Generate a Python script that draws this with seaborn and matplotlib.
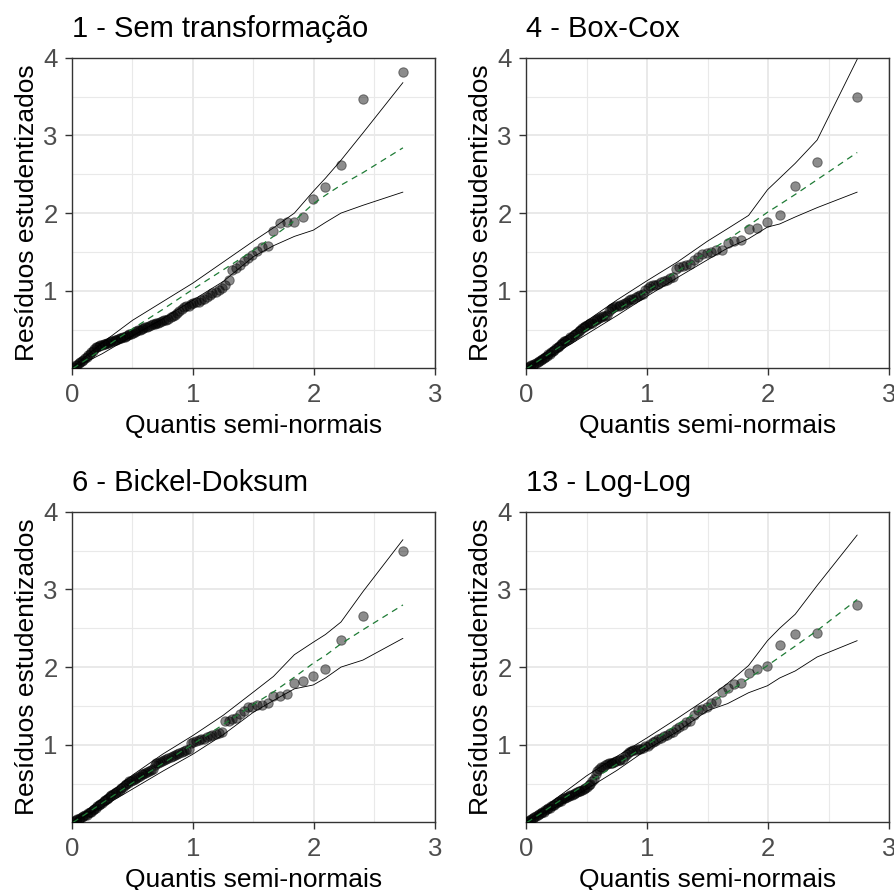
import matplotlib
matplotlib.use("Agg")
import matplotlib.pyplot as plt
import seaborn as sns
import pandas as pd
from matplotlib.ticker import MultipleLocator, FixedLocator

# ---------------- data ----------------
titles = ["1 - Sem transformação", "4 - Box-Cox", "6 - Bickel-Doksum", "13 - Log-Log"]
xlabel = "Quantis semi-normais"
ylabel = "Resíduos estudentizados"
xticks = [0, 1, 2, 3]
yticks = [1, 2, 3, 4]

# half-normal quantiles (x positions of the points)
quantis = [0.008, 0.02, 0.033, 0.045, 0.058, 0.07, 0.083, 0.095, 0.108, 0.121,
           0.133, 0.146, 0.158, 0.171, 0.184, 0.197, 0.209, 0.222, 0.235, 0.248,
           0.261, 0.274, 0.287, 0.3, 0.313, 0.326, 0.339, 0.353, 0.366, 0.379,
           0.393, 0.406, 0.42, 0.434, 0.447, 0.461, 0.475, 0.489, 0.503, 0.518,
           0.532, 0.546, 0.561, 0.576, 0.59, 0.605, 0.621, 0.636, 0.651, 0.667,
           0.682, 0.698, 0.714, 0.73, 0.747, 0.764, 0.78, 0.797, 0.815, 0.832,
           0.85, 0.868, 0.887, 0.905, 0.924, 0.944, 0.963, 0.983, 1.004, 1.025,
           1.046, 1.068, 1.09, 1.113, 1.137, 1.161, 1.186, 1.212, 1.238, 1.265,
           1.294, 1.323, 1.354, 1.386, 1.419, 1.454, 1.491, 1.53, 1.572, 1.617,
           1.665, 1.717, 1.774, 1.838, 1.91, 1.994, 2.095, 2.223, 2.404, 2.735]

res_sem = [0.01, 0.02, 0.04, 0.05, 0.07, 0.08, 0.10, 0.11, 0.13, 0.15,
           0.17, 0.19, 0.21, 0.23, 0.25, 0.27, 0.28, 0.29, 0.30, 0.30,
           0.31, 0.32, 0.33, 0.33, 0.34, 0.35, 0.36, 0.37, 0.37, 0.38,
           0.39, 0.39, 0.40, 0.41, 0.42, 0.43, 0.44, 0.45, 0.46, 0.47,
           0.48, 0.49, 0.50, 0.51, 0.52, 0.53, 0.54, 0.55, 0.56, 0.57,
           0.57, 0.58, 0.59, 0.60, 0.61, 0.62, 0.63, 0.64, 0.66, 0.67,
           0.69, 0.71, 0.74, 0.77, 0.79, 0.80, 0.81, 0.83, 0.84, 0.85,
           0.86, 0.88, 0.90, 0.92, 0.95, 0.97, 0.99, 1.01, 1.04, 1.08,
           1.14, 1.27, 1.29, 1.33, 1.38, 1.42, 1.46, 1.51, 1.56, 1.57,
           1.77, 1.87, 1.88, 1.88, 1.95, 2.18, 2.34, 2.62, 3.47, 3.81]

res_boxcox = [0.01, 0.02, 0.03, 0.04, 0.05, 0.06, 0.07, 0.08, 0.09, 0.11,
              0.12, 0.13, 0.15, 0.16, 0.18, 0.19, 0.21, 0.22, 0.24, 0.26,
              0.28, 0.29, 0.31, 0.33, 0.35, 0.36, 0.37, 0.38, 0.40, 0.41,
              0.43, 0.44, 0.46, 0.48, 0.50, 0.52, 0.54, 0.55, 0.56, 0.57,
              0.58, 0.59, 0.61, 0.63, 0.64, 0.65, 0.66, 0.67, 0.68, 0.69,
              0.74, 0.77, 0.78, 0.79, 0.80, 0.81, 0.82, 0.83, 0.84, 0.86,
              0.88, 0.89, 0.90, 0.92, 0.93, 0.94, 0.96, 1.01, 1.04, 1.06,
              1.07, 1.08, 1.09, 1.11, 1.12, 1.14, 1.16, 1.18, 1.28, 1.31,
              1.32, 1.33, 1.35, 1.40, 1.44, 1.47, 1.49, 1.50, 1.52, 1.53,
              1.62, 1.64, 1.66, 1.79, 1.81, 1.89, 1.98, 2.35, 2.66, 3.50]

res_bickel = [0.01, 0.02, 0.03, 0.04, 0.05, 0.06, 0.07, 0.08, 0.09, 0.10,
              0.12, 0.13, 0.14, 0.16, 0.17, 0.19, 0.21, 0.22, 0.24, 0.25,
              0.27, 0.29, 0.30, 0.32, 0.34, 0.35, 0.37, 0.38, 0.39, 0.41,
              0.42, 0.44, 0.46, 0.48, 0.50, 0.51, 0.53, 0.54, 0.55, 0.56,
              0.57, 0.59, 0.60, 0.62, 0.63, 0.64, 0.65, 0.66, 0.67, 0.69,
              0.74, 0.76, 0.77, 0.78, 0.79, 0.80, 0.82, 0.83, 0.84, 0.85,
              0.87, 0.88, 0.89, 0.91, 0.92, 0.93, 0.95, 1.02, 1.04, 1.05,
              1.06, 1.07, 1.08, 1.10, 1.11, 1.13, 1.14, 1.15, 1.17, 1.30,
              1.31, 1.33, 1.35, 1.40, 1.43, 1.48, 1.49, 1.51, 1.51, 1.54,
              1.63, 1.63, 1.65, 1.79, 1.82, 1.88, 1.97, 2.35, 2.66, 3.50]

res_loglog = [0.01, 0.02, 0.03, 0.05, 0.06, 0.07, 0.08, 0.09, 0.11, 0.12,
              0.13, 0.14, 0.16, 0.17, 0.18, 0.19, 0.21, 0.22, 0.23, 0.25,
              0.26, 0.27, 0.28, 0.30, 0.31, 0.32, 0.33, 0.34, 0.35, 0.36,
              0.37, 0.38, 0.39, 0.40, 0.41, 0.42, 0.43, 0.44, 0.46, 0.48,
              0.50, 0.53, 0.56, 0.62, 0.66, 0.69, 0.71, 0.72, 0.74, 0.75,
              0.76, 0.76, 0.77, 0.78, 0.79, 0.80, 0.80, 0.82, 0.85, 0.88,
              0.91, 0.92, 0.93, 0.93, 0.94, 0.95, 0.96, 0.98, 0.99, 1.01,
              1.03, 1.05, 1.07, 1.09, 1.11, 1.13, 1.15, 1.17, 1.20, 1.23,
              1.26, 1.29, 1.31, 1.38, 1.45, 1.46, 1.48, 1.54, 1.56, 1.68,
              1.73, 1.78, 1.79, 1.92, 1.97, 2.02, 2.29, 2.42, 2.44, 2.80]

# simulated envelope (lower / mean / upper) read at these quantiles
env_x = [0.008, 0.25, 0.5, 0.75, 1.0, 1.25, 1.5, 1.665, 1.838, 1.994, 2.095, 2.223, 2.404, 2.735]

low_sem = [0.0, 0.19, 0.42, 0.64, 0.88, 1.12, 1.44, 1.58, 1.70, 1.78, 1.88, 2.00, 2.10, 2.27]
mid_sem = [0.0, 0.25, 0.51, 0.76, 1.02, 1.27, 1.52, 1.70, 1.90, 2.12, 2.23, 2.36, 2.52, 2.84]
upp_sem = [0.02, 0.33, 0.62, 0.86, 1.10, 1.37, 1.64, 1.81, 2.00, 2.28, 2.45, 2.68, 3.03, 3.68]

low_boxcox = [0.0, 0.20, 0.44, 0.68, 0.93, 1.17, 1.40, 1.55, 1.67, 1.82, 1.86, 1.95, 2.07, 2.27]
mid_boxcox = [0.0, 0.25, 0.50, 0.75, 1.00, 1.25, 1.50, 1.66, 1.84, 2.01, 2.11, 2.24, 2.43, 2.78]
upp_boxcox = [0.02, 0.31, 0.61, 0.88, 1.13, 1.37, 1.64, 1.80, 1.97, 2.30, 2.45, 2.64, 2.94, 3.98]

low_bickel = [0.0, 0.20, 0.43, 0.66, 0.88, 1.13, 1.42, 1.57, 1.72, 1.77, 1.86, 2.00, 2.09, 2.37]
mid_bickel = [0.0, 0.25, 0.51, 0.76, 1.01, 1.26, 1.52, 1.68, 1.87, 2.05, 2.15, 2.30, 2.48, 2.80]
upp_bickel = [0.02, 0.31, 0.61, 0.88, 1.12, 1.38, 1.68, 1.88, 2.16, 2.32, 2.42, 2.58, 2.97, 3.64]

low_loglog = [0.0, 0.20, 0.43, 0.67, 0.94, 1.17, 1.44, 1.53, 1.67, 1.76, 1.86, 1.95, 2.13, 2.34]
mid_loglog = [0.0, 0.25, 0.50, 0.75, 1.00, 1.26, 1.51, 1.68, 1.85, 2.02, 2.13, 2.27, 2.47, 2.87]
upp_loglog = [0.02, 0.31, 0.60, 0.85, 1.09, 1.34, 1.60, 1.79, 2.02, 2.34, 2.50, 2.68, 3.05, 3.70]

residuos = [res_sem, res_boxcox, res_bickel, res_loglog]
inferior = [low_sem, low_boxcox, low_bickel, low_loglog]
media = [mid_sem, mid_boxcox, mid_bickel, mid_loglog]
superior = [upp_sem, upp_boxcox, upp_bickel, upp_loglog]

# ---------------- style ----------------
sns.set_style("white")
plt.rcParams["font.family"] = ["Liberation Sans", "DejaVu Sans"]

W, H = 895, 890
fig = plt.figure(figsize=(W / 100, H / 100), dpi=100)

# axes boxes in pixels: left, right, top, bottom
boxes = [(72, 435, 57.7, 367.7), (526, 889.3, 57.7, 367.7),
         (72, 435, 511.7, 821.7), (526, 889.3, 511.7, 821.7)]

grid_col = "#E9E9E9"
dark = "#333333"

for i in range(4):
    l, r, t, b = boxes[i]
    ax = fig.add_axes([l / W, 1 - b / H, (r - l) / W, (b - t) / H])
    ax.set_facecolor("white")

    pts = pd.DataFrame({"x": quantis, "y": residuos[i]})
    env = pd.DataFrame({"x": env_x, "lo": inferior[i], "mid": media[i], "hi": superior[i]})

    sns.scatterplot(data=pts, x="x", y="y", ax=ax, color="black", alpha=0.45,
                    s=46, edgecolor="black", linewidth=0.7, zorder=3, clip_on=True)
    sns.lineplot(data=env, x="x", y="lo", ax=ax, color="black", lw=0.6,
                 estimator=None, sort=False, zorder=4)
    sns.lineplot(data=env, x="x", y="hi", ax=ax, color="black", lw=0.6,
                 estimator=None, sort=False, zorder=4)
    sns.lineplot(data=env, x="x", y="mid", ax=ax, color="#1e7b35", lw=0.9,
                 estimator=None, sort=False, zorder=5, linestyle=(0, (5, 4)))

    ax.set_xlim(0, 3)
    ax.set_ylim(0.01, 4)
    ax.xaxis.set_major_locator(FixedLocator(xticks))
    ax.yaxis.set_major_locator(FixedLocator(yticks))
    ax.xaxis.set_minor_locator(MultipleLocator(0.5))
    ax.yaxis.set_minor_locator(FixedLocator([0.5, 1.5, 2.5, 3.5]))
    ax.grid(True, which="major", color=grid_col, lw=1.4, zorder=0)
    ax.grid(True, which="minor", color=grid_col, lw=0.8, zorder=0)
    ax.set_axisbelow(True)

    for sp in ax.spines.values():
        sp.set_color(dark)
        sp.set_linewidth(1.0)
        sp.set_visible(True)

    ax.tick_params(axis="both", which="major", direction="out", length=4.7,
                   width=1.0, color=dark, labelcolor="#4D4D4D", labelsize=18.5,
                   left=True, bottom=True)
    ax.tick_params(axis="x", which="major", pad=6)
    ax.tick_params(axis="y", which="major", pad=5.5)
    ax.tick_params(which="minor", length=0)

    ax.set_xlabel(xlabel, fontsize=19, color="black", labelpad=5)
    ax.set_ylabel(ylabel, fontsize=19, color="black", labelpad=3.5)
    ax.set_title(titles[i], loc="left", fontsize=21, color="black", pad=15)

fig.savefig("out.png", dpi=100, facecolor="white")
